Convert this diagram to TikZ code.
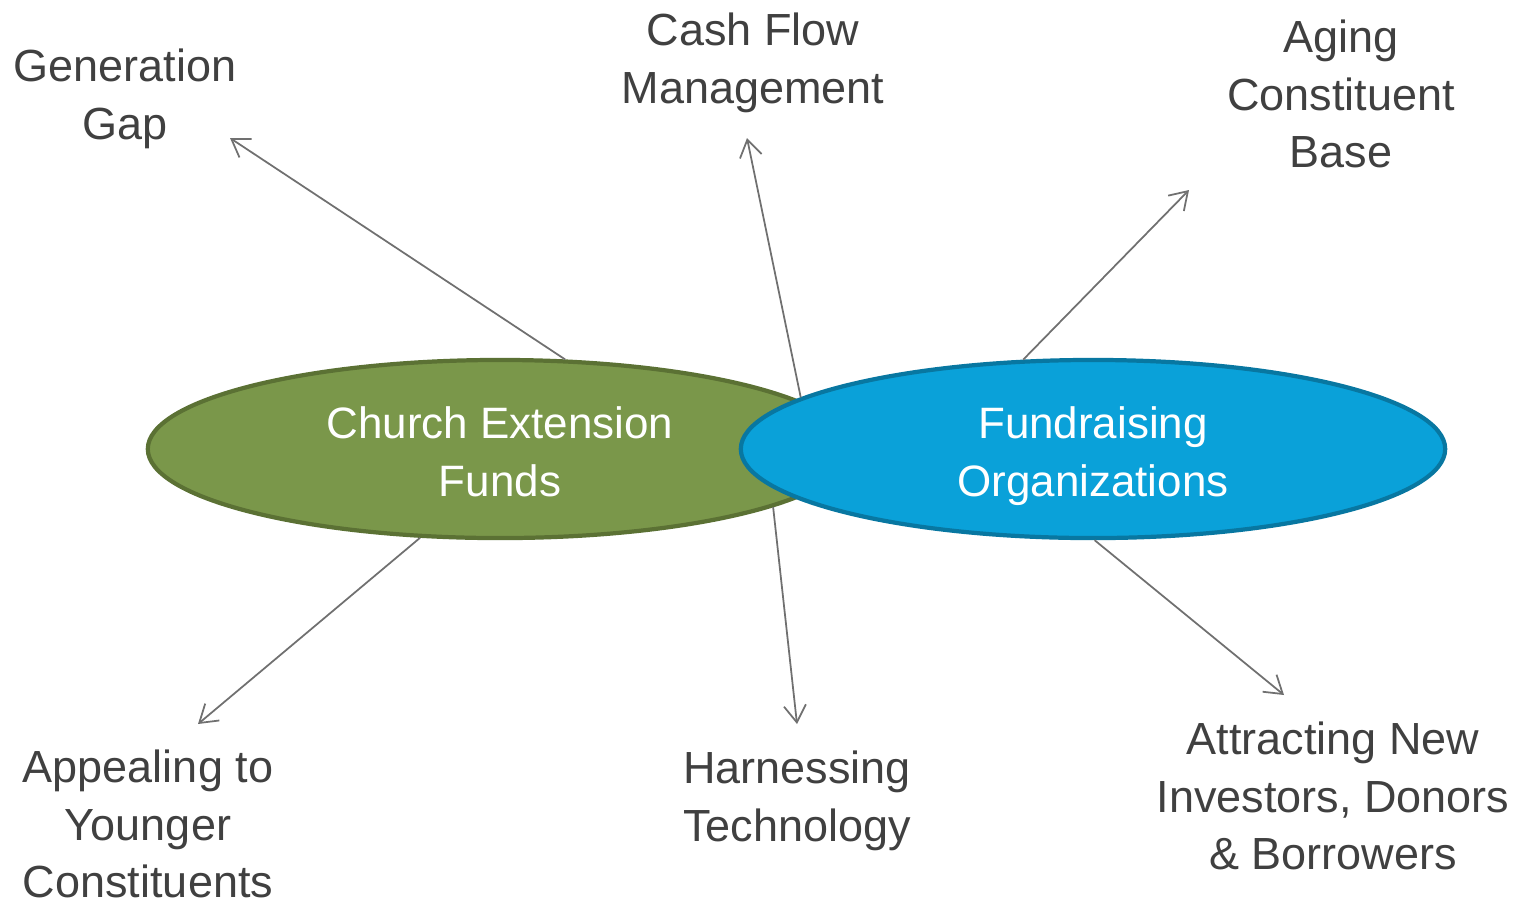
\documentclass[tikz,border=0pt]{standalone}
\usepackage{fontspec}
\setmainfont{Liberation Sans}
\usetikzlibrary{shapes.geometric,arrows.meta}

\definecolor{leaf}{HTML}{7A974A}
\definecolor{leafedge}{HTML}{5B7134}
\definecolor{sky}{HTML}{0AA1D9}
\definecolor{skyedge}{HTML}{0877A1}
\definecolor{labelgray}{HTML}{404040}
\definecolor{linkgray}{HTML}{707070}

% fixed line box so both group labels sit at the same height
\newcommand{\hubline}{\rule[-2.7pt]{0pt}{15.7pt}}

\tikzset{
  hub/.style={ellipse, line width=1.2pt, minimum width=7.04cm, minimum height=1.78cm,
    inner sep=0pt, text=white, align=center,
    font=\fontsize{12.5pt}{16.5pt}\selectfont},
  topic/.style={text=labelgray, align=center, inner sep=0pt,
    font=\fontsize{12.8pt}{16.4pt}\selectfont},
  link/.style={draw=linkgray, line width=0.5pt,
    -{Straight Barb[length=1.7mm, width=2.2mm]}}
}

\begin{document}
\begin{tikzpicture}[x=0.01cm, y=-0.01cm]
  \useasboundingbox (0,0) rectangle (1515,902);

  % the two overlapping groups
  \node[hub, fill=leaf, draw=leafedge] (cef) at (500,449)
    {\hubline Church Extension\\\hubline Funds};
  \node[hub, fill=sky, draw=skyedge] (fro) at (1093,449)
    {\hubline Fundraising\\\hubline Organizations};

  % surrounding topics
  \node[topic] (gap)   at (125,99)  {Generation\\Gap};
  \node[topic] (cash)  at (753,63)  {Cash Flow\\Management};
  \node[topic] (aging) at (1341,94) {Aging\\Constituent\\Base};
  \node[topic] (young) at (148,824) {Appealing to\\Younger\\Constituents};
  \node[topic] (tech)  at (797,801) {Harnessing\\Technology};
  \node[topic] (new)   at (1333,796) {Attracting New\\Investors, Donors\\\& Borrowers};

  % arrow tips
  \coordinate (tgap)   at (230,138);
  \coordinate (tcash)  at (747,138);
  \coordinate (taging) at (1189,190);
  \coordinate (tyoung) at (198,724);
  \coordinate (ttech)  at (797,724);
  \coordinate (tnew)   at (1284,695);

  \draw[link] (cef.54.7)  -- (tgap);
  \draw[link] (fro.170.8) -- (tcash);
  \draw[link] (fro.128.5) -- (taging);
  \draw[link] (cef.-132)  -- (tyoung);
  \draw[link] (cef.-12.2) -- (ttech);
  \draw[link] (fro.-89)   -- (tnew);
\end{tikzpicture}
\end{document}
